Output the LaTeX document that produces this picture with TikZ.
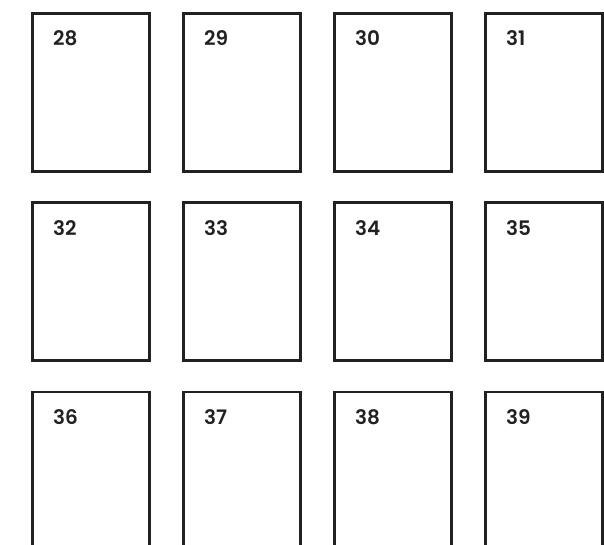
\documentclass[tikz,border=0pt]{standalone}
\usepackage{fontspec}
\newfontfamily\padfont{Poppins}[BoldFont=* SemiBold]
\begin{document}
\begin{tikzpicture}[
    x=1pt, y=-1pt,
    pad/.style = {
        draw=black!87, line width=2.6pt,
        minimum width=117pt, minimum height=158pt,
        anchor=north west, inner sep=0pt
    },
    padnum/.style = {
        font=\padfont\bfseries\fontsize{20}{20}\selectfont,
        text=black!87, anchor=base west, inner sep=0pt
    }
]
\useasboundingbox (0,0) rectangle (604,545);

%% ---- PAD GRID ----
\foreach \row in {0,1,2} {
    \foreach \col in {0,...,3} {
        \pgfmathtruncatemacro{\num}{28+4*\row+\col}
        \node[pad] (pad\num) at (31+151*\col, 12+189.25*\row) {};
        \node[padnum] (num\num) at ([xshift=22pt,yshift=-34pt]pad\num.north west) {\num};
    }
}

\end{tikzpicture}
\end{document}
